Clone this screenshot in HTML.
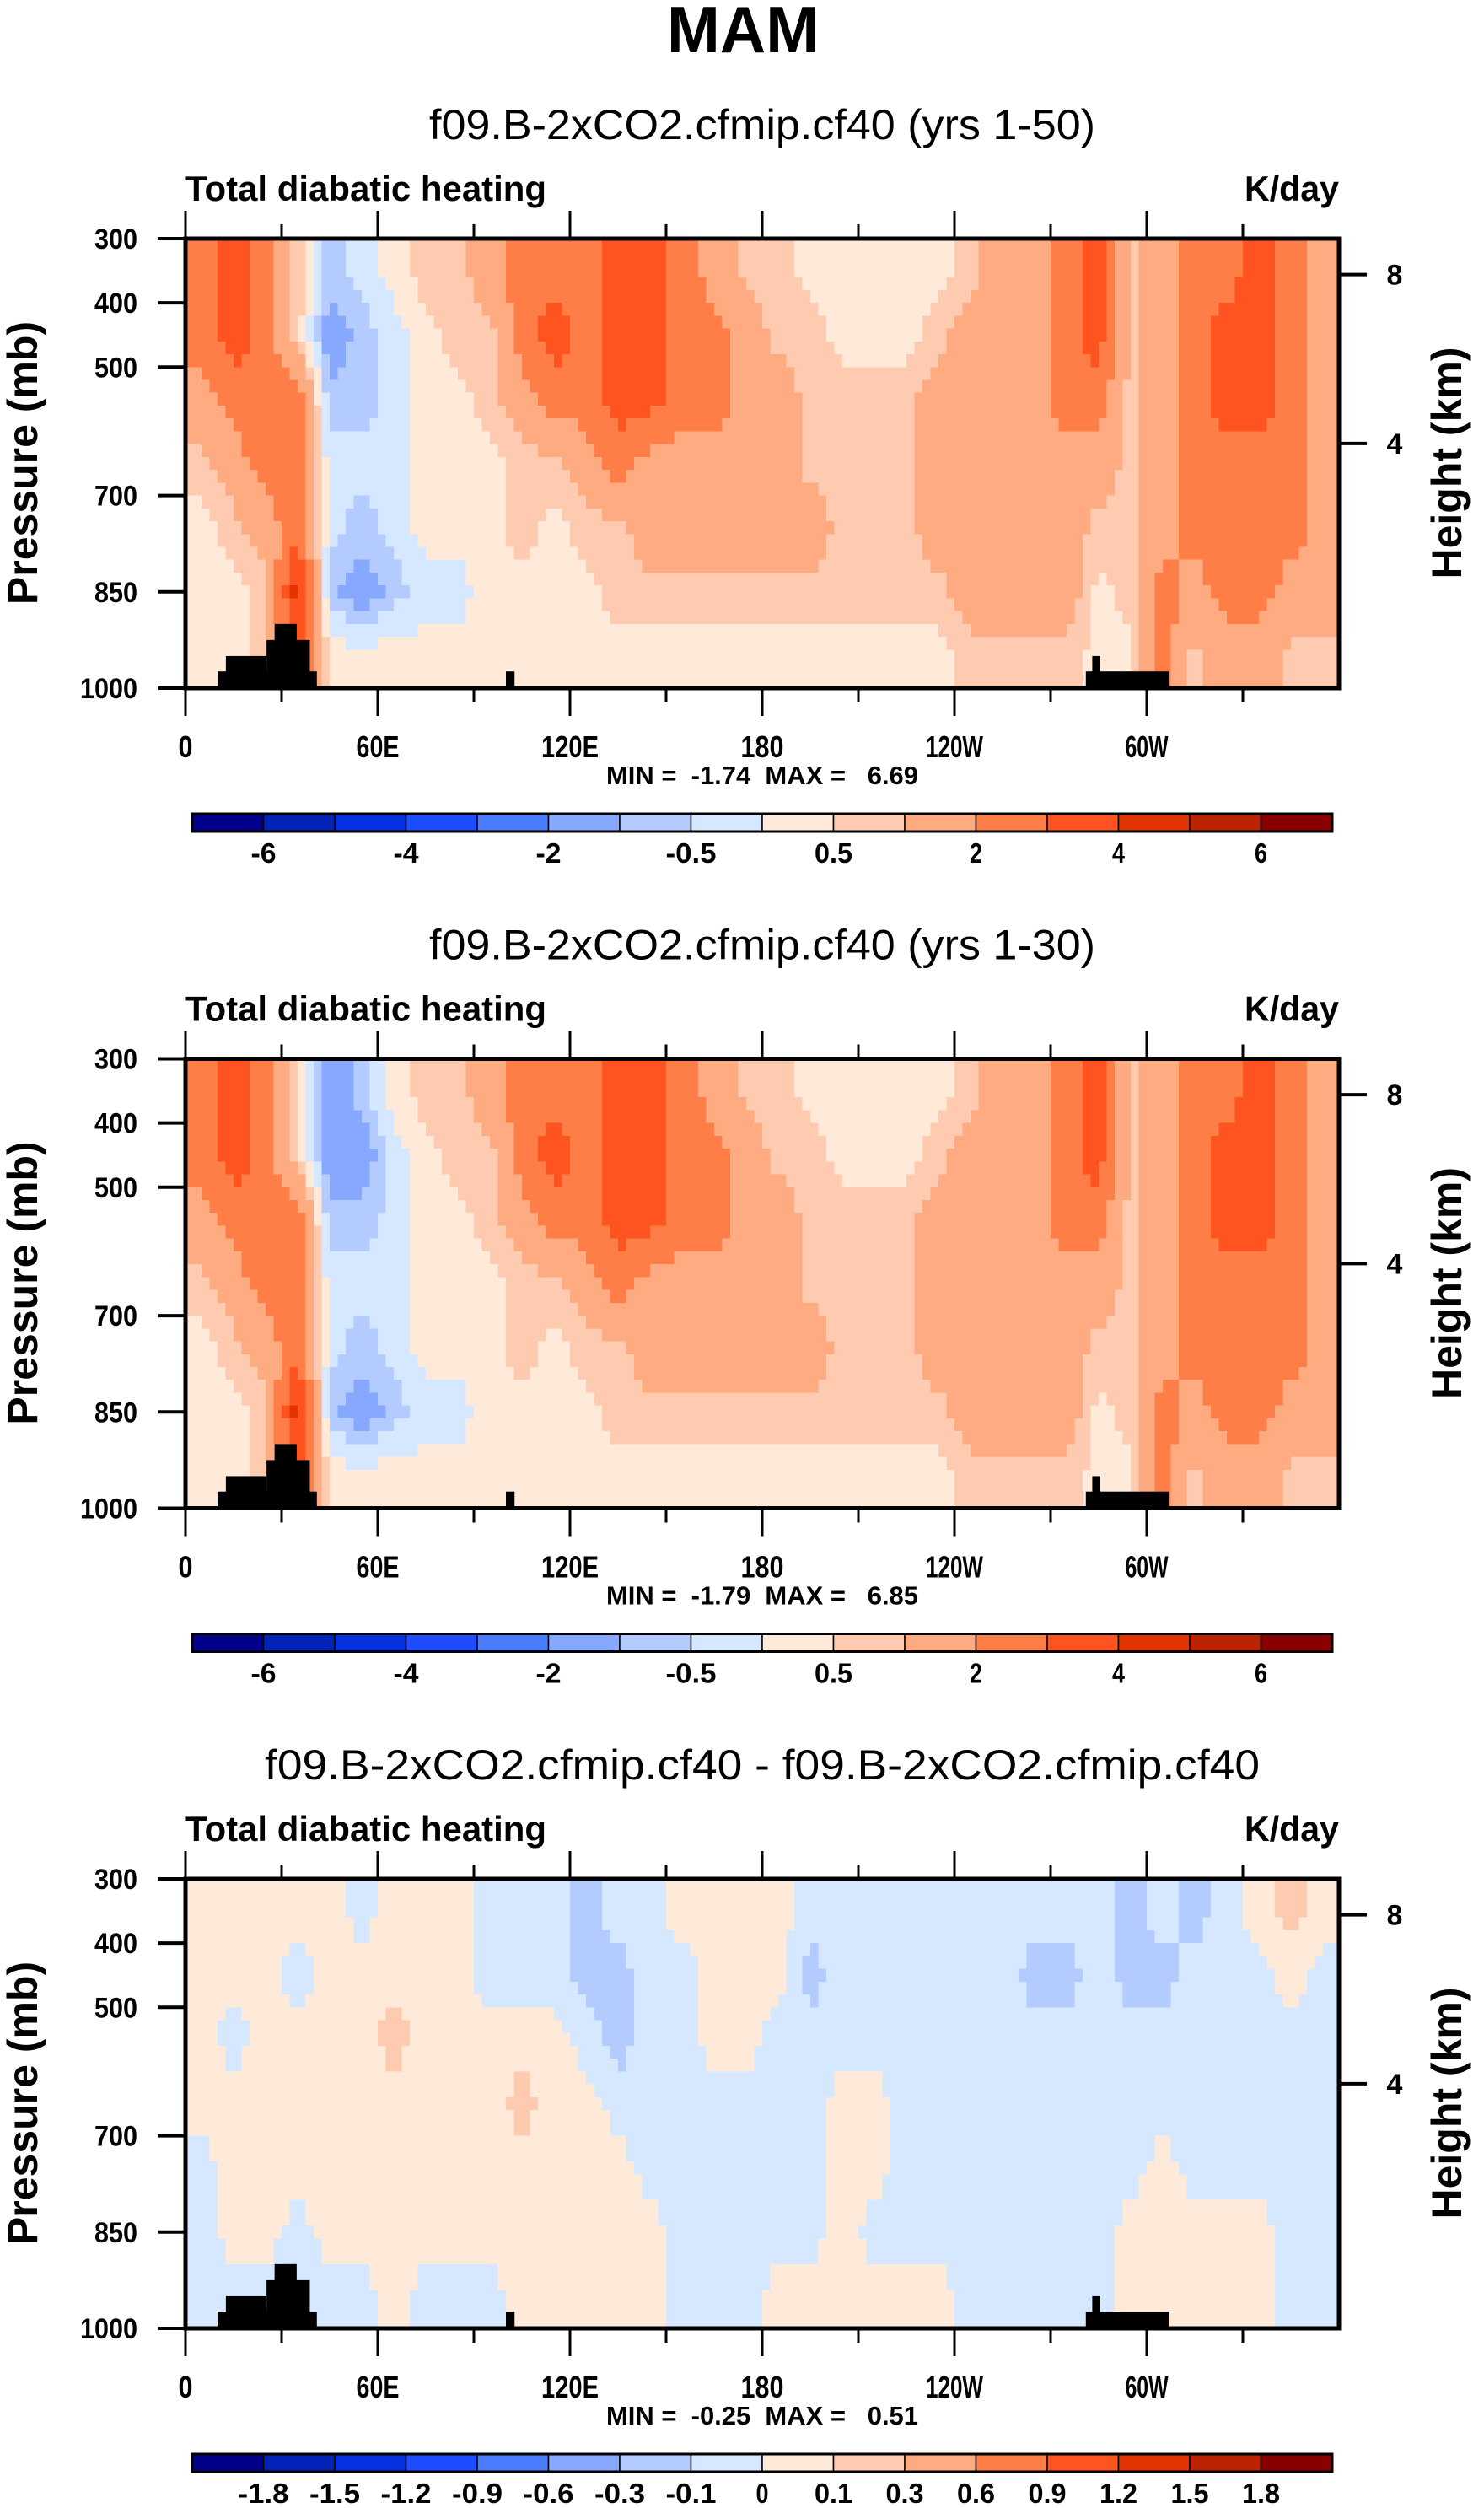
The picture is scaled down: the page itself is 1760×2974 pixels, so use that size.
<!DOCTYPE html>
<html><head><meta charset="utf-8"><style>
html,body{margin:0;padding:0;background:#fff;}
svg{display:block;font-family:"Liberation Sans",sans-serif;}
</style></head><body>
<svg id="fig" width="1760" height="2974" viewBox="0 0 1760 2974" xmlns="http://www.w3.org/2000/svg">
<text x="881" y="62" text-anchor="middle" font-weight="bold" font-size="78" textLength="180" lengthAdjust="spacingAndGlyphs">MAM</text>
</svg>
<script>
// ---- data ----
const lonCenters = [5,15,25,35,45,55,65,75,85,95,105,115,125,135,145,155,165,175,185,195,205,215,225,235,245,255,265,275,285,295,305,315,325,335,345,355];
const pressureBands = [[300,400],[400,500],[500,600],[600,700],[700,800],[800,900],[900,1000]];
// panel 1 values: one row per longitude column, top (300mb) to bottom (1000mb)
const heating50 = [
[2.5,2.5,1.5,0.75,0.3,0.3,0.3],[3.5,3.5,2.5,1.5,0.75,0.3,0.3],[2.5,2.5,2.5,2.5,1.5,0.75,0.75],[0.75,0.75,2.5,2.5,2.5,4.5,3.5],
[-0.75,-1.5,-0.75,-0.3,-0.3,-0.75,0.3],[-0.3,-0.75,-0.75,-0.3,-0.75,-1.5,0.3],[0.3,-0.3,-0.3,-0.3,-0.3,-0.75,0.3],[0.75,0.3,0.3,0.3,0.3,-0.3,0.3],
[0.75,0.75,0.3,0.3,0.3,-0.3,0.3],[1.5,0.75,0.75,0.3,0.3,0.3,0.3],[2.5,2.5,1.5,0.75,0.75,0.3,0.3],[2.5,3.5,2.5,0.75,0.3,0.3,0.3],
[2.5,2.5,2.5,1.5,0.75,0.3,0.3],[3.5,3.5,3.5,2.5,0.75,0.75,0.3],[3.5,3.5,3.5,1.5,1.5,0.75,0.3],[2.5,2.5,2.5,1.5,1.5,0.75,0.3],
[1.5,2.5,2.5,1.5,1.5,0.75,0.3],[0.75,1.5,1.5,1.5,1.5,0.75,0.3],[0.75,0.75,1.5,1.5,1.5,0.75,0.3],[0.3,0.75,0.75,0.75,1.5,0.75,0.3],
[0.3,0.3,0.75,0.75,0.75,0.75,0.3],[0.3,0.3,0.75,0.75,0.75,0.75,0.3],[0.3,0.3,0.75,0.75,0.75,0.75,0.3],[0.3,0.75,1.5,1.5,1.5,0.75,0.3],
[0.75,1.5,1.5,1.5,1.5,1.5,0.75],[1.5,1.5,1.5,1.5,1.5,1.5,0.75],[1.5,1.5,1.5,1.5,1.5,1.5,0.75],[2.5,2.5,2.5,1.5,1.5,1.5,0.75],
[3.5,3.5,2.5,1.5,0.75,0.3,0.3],[0.75,0.75,0.75,0.75,0.75,0.75,0.3],[1.5,1.5,1.5,1.5,1.5,2.5,2.5],[2.5,2.5,2.5,2.5,2.5,1.5,0.75],
[2.5,3.5,3.5,2.5,2.5,2.5,1.5],[3.5,3.5,3.5,2.5,2.5,2.5,1.5],[2.5,2.5,2.5,2.5,2.5,1.5,0.75],[1.5,1.5,1.5,1.5,1.5,1.5,0.75]];
const heating30 = [
[2.5,2.5,1.5,0.75,0.3,0.3,0.3],[3.5,3.5,2.5,1.5,0.75,0.3,0.3],[2.5,2.5,2.5,2.5,1.5,0.75,0.75],[0.75,0.75,2.5,2.5,2.5,4.5,3.5],
[-1.5,-1.5,-0.75,-0.3,-0.3,-0.75,0.3],[-0.75,-1.5,-0.75,-0.3,-0.75,-1.5,0.3],[0.3,-0.3,-0.3,-0.3,-0.3,-0.75,0.3],[0.75,0.3,0.3,0.3,0.3,-0.3,0.3],
[0.75,0.75,0.3,0.3,0.3,-0.3,0.3],[1.5,0.75,0.75,0.3,0.3,0.3,0.3],[2.5,2.5,1.5,0.75,0.75,0.3,0.3],[2.5,3.5,2.5,0.75,0.3,0.3,0.3],
[2.5,2.5,2.5,1.5,0.75,0.3,0.3],[3.5,3.5,3.5,2.5,0.75,0.75,0.3],[3.5,3.5,3.5,1.5,1.5,0.75,0.3],[2.5,2.5,2.5,1.5,1.5,0.75,0.3],
[1.5,2.5,2.5,1.5,1.5,0.75,0.3],[0.75,1.5,1.5,1.5,1.5,0.75,0.3],[0.75,0.75,1.5,1.5,1.5,0.75,0.3],[0.3,0.75,0.75,0.75,1.5,0.75,0.3],
[0.3,0.3,0.75,0.75,0.75,0.75,0.3],[0.3,0.3,0.75,0.75,0.75,0.75,0.3],[0.3,0.3,0.75,0.75,0.75,0.75,0.3],[0.3,0.75,1.5,1.5,1.5,0.75,0.3],
[0.75,1.5,1.5,1.5,1.5,1.5,0.75],[1.5,1.5,1.5,1.5,1.5,1.5,0.75],[1.5,1.5,1.5,1.5,1.5,1.5,0.75],[2.5,2.5,2.5,1.5,1.5,1.5,0.75],
[3.5,3.5,2.5,1.5,0.75,0.3,0.3],[0.75,0.75,0.75,0.75,0.75,0.75,0.3],[1.5,1.5,1.5,1.5,1.5,2.5,2.5],[2.5,2.5,2.5,2.5,2.5,1.5,0.75],
[2.5,3.5,3.5,2.5,2.5,2.5,1.5],[3.5,3.5,3.5,2.5,2.5,2.5,1.5],[2.5,2.5,2.5,2.5,2.5,1.5,0.75],[1.5,1.5,1.5,1.5,1.5,1.5,0.75]];
const heatingDiff = [
[0.05,0.05,0.05,0.05,-0.05,-0.05,-0.05],[0.05,0.05,-0.05,0.05,0.05,0.05,-0.05],[0.05,0.05,0.05,0.05,0.05,0.05,-0.05],[0.05,-0.05,0.05,0.05,0.05,-0.05,-0.05],
[0.05,0.05,0.05,0.05,0.05,0.05,-0.05],[-0.05,0.05,0.05,0.05,0.05,0.05,-0.05],[0.05,0.05,0.15,0.05,0.05,0.05,0.05],[0.05,0.05,0.05,0.05,0.05,0.05,-0.05],
[0.05,0.05,0.05,0.05,0.05,0.05,-0.05],[-0.05,-0.05,0.05,0.05,0.05,0.05,-0.05],[-0.05,-0.05,0.05,0.15,0.05,0.05,0.05],[-0.05,-0.05,0.05,0.05,0.05,0.05,0.05],
[-0.15,-0.15,-0.05,0.05,0.05,0.05,0.05],[-0.05,-0.15,-0.15,-0.05,0.05,0.05,0.05],[-0.05,-0.05,-0.05,-0.05,-0.05,0.05,0.05],[0.05,-0.05,-0.05,-0.05,-0.05,-0.05,-0.05],
[0.05,0.05,0.05,-0.05,-0.05,-0.05,-0.05],[0.05,0.05,0.05,-0.05,-0.05,-0.05,-0.05],[0.05,0.05,-0.05,-0.05,-0.05,-0.05,0.05],[-0.05,-0.15,-0.05,-0.05,-0.05,-0.05,0.05],
[-0.05,-0.05,-0.05,0.05,0.05,0.05,0.05],[-0.05,-0.05,-0.05,0.05,0.05,-0.05,0.05],[-0.05,-0.05,-0.05,-0.05,-0.05,-0.05,0.05],[-0.05,-0.05,-0.05,-0.05,-0.05,-0.05,0.05],
[-0.05,-0.05,-0.05,-0.05,-0.05,-0.05,-0.05],[-0.05,-0.05,-0.05,-0.05,-0.05,-0.05,-0.05],[-0.05,-0.15,-0.05,-0.05,-0.05,-0.05,-0.05],[-0.05,-0.15,-0.05,-0.05,-0.05,-0.05,-0.05],
[-0.05,-0.05,-0.05,-0.05,-0.05,-0.05,-0.05],[-0.15,-0.15,-0.05,-0.05,-0.05,0.05,0.05],[-0.05,-0.15,-0.05,-0.05,0.05,0.05,0.05],[-0.15,-0.05,-0.05,-0.05,-0.05,0.05,0.05],
[-0.05,-0.05,-0.05,-0.05,-0.05,0.05,0.05],[0.05,-0.05,-0.05,-0.05,-0.05,0.05,0.05],[0.15,0.05,-0.05,-0.05,-0.05,-0.05,-0.05],[0.05,-0.05,-0.05,-0.05,-0.05,-0.05,-0.05]];
// topography blocks: [lonStart, lonEnd, topPressure]
const landBlocks = [[10,41,974],[12.6,25.3,950],[25.3,38.8,925],[27.8,34.7,900],[100,102.7,974],[281,307,974],[283,285.5,950]];
const levelsAbs = [-6,-5,-4,-3,-2,-1,-0.5,0,0.5,1,2,3,4,5,6];
const levelsAbsLabels = ["-6","-4","-2","-0.5","0.5","2","4","6"];
const levelsDiff = [-1.8,-1.5,-1.2,-0.9,-0.6,-0.3,-0.1,0,0.1,0.3,0.6,0.9,1.2,1.5,1.8];
const levelsDiffLabels = ["-1.8","-1.5","-1.2","-0.9","-0.6","-0.3","-0.1","0","0.1","0.3","0.6","0.9","1.2","1.5","1.8"];
const palette = ["#03008c","#0322b8","#0432e0","#1e4cff","#4a7cff","#86a8ff","#b4cbff","#d6e8ff","#ffeada","#ffcbb0","#ffab82","#ff7e48","#ff5420","#e23400","#ba2200","#8a0000"];
const pTicks = [300,400,500,700,850,1000];
const hTicks = [[8,356],[4,619]];
const lonTickLabels = ["0","60E","120E","180","120W","60W"];
const panelTitles = ["f09.B-2xCO2.cfmip.cf40 (yrs 1-50)","f09.B-2xCO2.cfmip.cf40 (yrs 1-30)","f09.B-2xCO2.cfmip.cf40 - f09.B-2xCO2.cfmip.cf40"];
const minMax = ["MIN =  -1.74  MAX =   6.69","MIN =  -1.79  MAX =   6.85","MIN =  -0.25  MAX =   0.51"];

const NS="http://www.w3.org/2000/svg";
const svg=document.getElementById('fig');
function mk(tag,attrs,parent){const e=document.createElementNS(NS,tag);for(const k in attrs)e.setAttribute(k,attrs[k]);(parent||svg).appendChild(e);return e;}
const X0=220,X1=1588,Y0=283,Y1=816;
function xOf(lon){return X0+(lon/360)*(X1-X0);}
function colorFor(v,levels){let i=0;while(i<levels.length&&v>=levels[i])i++;return palette[i];}
// bilinear interpolation of a field between column/band centres
function sample(field,lon,p){
  const nc=lonCenters.length, nr=pressureBands.length;
  let fc=(lon-lonCenters[0])/10; fc=Math.max(0,Math.min(nc-1,fc));
  const pc=pressureBands.map(b=>(b[0]+b[1])/2);
  let fr=(p-pc[0])/100; fr=Math.max(0,Math.min(nr-1,fr));
  const c0=Math.floor(fc),c1=Math.min(nc-1,c0+1),r0=Math.floor(fr),r1=Math.min(nr-1,r0+1);
  const tc=fc-c0,tr=fr-r0;
  const a=field[c0][r0]*(1-tr)+field[c0][r1]*tr;
  const b=field[c1][r0]*(1-tr)+field[c1][r1]*tr;
  return a*(1-tc)+b*tc;
}

function drawPanel(k,field,levels,labels,allLabels){
  const dy=k*972.5;
  const yOf=p=>Y0+dy+(p-300)/700*(Y1-Y0);
  const g=mk('g',{});
  
  
  const t=mk('text',{x:904,y:165+dy,'text-anchor':'middle','font-size':50,textLength:(k==2?1180:790),lengthAdjust:'spacingAndGlyphs'},g);
  t.textContent=panelTitles[k];
  
  
  const l=mk('text',{x:220,y:238+dy,'font-size':42,'font-weight':'bold',textLength:428,lengthAdjust:'spacingAndGlyphs'},g);
  l.textContent='Total diabatic heating';
  
  
  const u=mk('text',{x:1588,y:238+dy,'font-size':42,'font-weight':'bold','text-anchor':'end',textLength:112,lengthAdjust:'spacingAndGlyphs'},g);
  u.textContent='K/day';
  
  
  const cells=mk('g',{'shape-rendering':'crispEdges'},g);
  
  
  const dl=2.5, dp=20;
  for(let lon=0;lon<360;lon+=dl){
    for(let p=300;p<1000;p+=dp){
      const v=sample(field,lon+dl/2,p+dp/2);
      const r=mk('rect',{x:xOf(lon),y:yOf(p),width:xOf(lon+dl)-xOf(lon)+0.8,height:yOf(p+dp)-yOf(p)+0.8,fill:colorFor(v,levels)},cells);
      
      
    }
  }
  landBlocks.forEach(bk=>{
    const r=mk('rect',{x:xOf(bk[0]),y:yOf(bk[2]),width:xOf(bk[1])-xOf(bk[0]),height:yOf(1000)-yOf(bk[2]),fill:'#000'},g);
    
    
  });
  const fr=mk('rect',{x:X0,y:Y0+dy,width:X1-X0,height:Y1-Y0,fill:'none',stroke:'#000','stroke-width':5},g);
  
  
  for(let lon=0;lon<=330;lon+=30){
    const major=lon%60==0, x=xOf(lon);
    const tb=mk('line',{x1:x,x2:x,y1:Y1+dy,y2:Y1+dy+(major?33:17),stroke:'#000','stroke-width':3},g);
    
    
    const tt=mk('line',{x1:x,x2:x,y1:Y0+dy,y2:Y0+dy-(major?33:17),stroke:'#000','stroke-width':3},g);
    
    
    if(major){
      const s=lonTickLabels[lon/60];
      const lt=mk('text',{x:x,y:898+dy,'text-anchor':'middle','font-size':36,'font-weight':'bold',textLength:s.length*17,lengthAdjust:'spacingAndGlyphs'},g);
      lt.textContent=s;
      
      
    }
  }
  pTicks.forEach(p=>{
    const y=yOf(p);
    const tl=mk('line',{x1:X0-33,x2:X0,y1:y,y2:y,stroke:'#000','stroke-width':4},g);
    
    
    const s=String(p);
    const tx=mk('text',{x:163,y:y+12,'text-anchor':'end','font-size':34,'font-weight':'bold',textLength:s.length*17,lengthAdjust:'spacingAndGlyphs'},g);
    tx.textContent=s;
    
    
  });
  hTicks.forEach(h=>{
    const y=yOf(h[1]);
    const tl=mk('line',{x1:X1,x2:X1+33,y1:y,y2:y,stroke:'#000','stroke-width':4},g);
    
    
    const tx=mk('text',{x:1654,y:y+12,'text-anchor':'middle','font-size':34,'font-weight':'bold'},g);
    tx.textContent=String(h[0]);
    
    
  });
  const yl=mk('text',{x:0,y:0,'text-anchor':'middle','font-size':50,'font-weight':'bold',transform:`translate(44,${549+dy}) rotate(-90)`},g);
  yl.textContent='Pressure (mb)';
  
  
  const hl=mk('text',{x:0,y:0,'text-anchor':'middle','font-size':50,'font-weight':'bold',transform:`translate(1733,${549+dy}) rotate(-90)`},g);
  hl.textContent='Height (km)';
  
  
  const mm=mk('text',{x:904,y:930+dy,'text-anchor':'middle','font-size':31,'font-weight':'bold',textLength:370,lengthAdjust:'spacingAndGlyphs'},g);
  mm.setAttribute('style','white-space:pre');
  mm.textContent=minMax[k];
  
  
  const cb=mk('g',{},g);
  
  
  const cx0=228,cx1=1580,cy0=965+dy,cy1=986+dy,bw=(cx1-cx0)/16;
  palette.forEach((c,i)=>{
    const r=mk('rect',{x:cx0+i*bw,y:cy0,width:bw,height:cy1-cy0,fill:c,stroke:'#000','stroke-width':1.5},cb);
    
    
  });
  mk('rect',{x:cx0,y:cy0,width:cx1-cx0,height:cy1-cy0,fill:'none',stroke:'#000','stroke-width':3},cb);
  levels.forEach((lv,i)=>{
    if(!allLabels && i%2==1) return;
    const s=allLabels?labels[i]:labels[i/2];
    const tx=mk('text',{x:cx0+(i+1)*bw,y:1023+dy,'text-anchor':'middle','font-size':33,'font-weight':'bold',textLength:Math.max(12,s.length*15),lengthAdjust:'spacingAndGlyphs'},cb);
    tx.textContent=s;
    
    
  });
}
drawPanel(0,heating50,levelsAbs,levelsAbsLabels,false);
drawPanel(1,heating30,levelsAbs,levelsAbsLabels,false);
drawPanel(2,heatingDiff,levelsDiff,levelsDiffLabels,true);
</script>
</body></html>
